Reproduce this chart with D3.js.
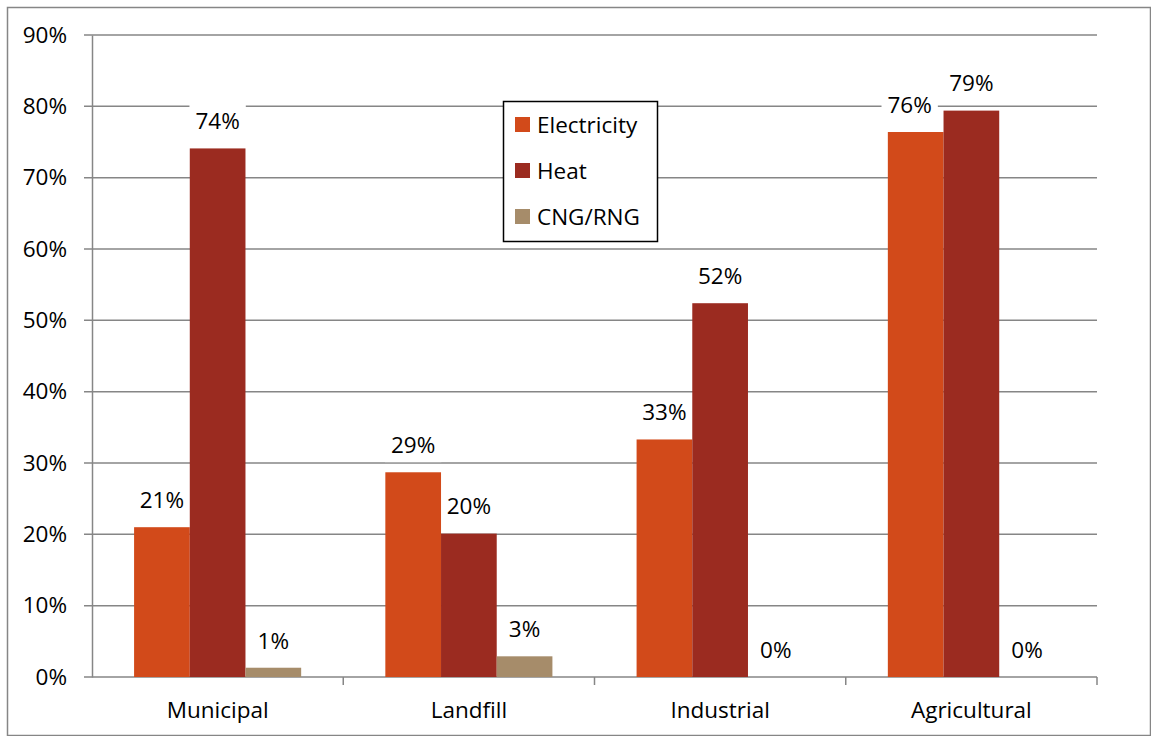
<!DOCTYPE html>
<html>
<head>
<meta charset="utf-8">
<script src="https://cdn.jsdelivr.net/npm/d3@7"></script>
<style>
  body { margin: 0; background: #fff; }
  svg text { font-family: "Open Sans", Lato, sans-serif; fill: #000; }
</style>
</head>
<body>
<div id="chart"></div>
<script>
var categories = ['Municipal', 'Landfill', 'Industrial', 'Agricultural'];
var seriesNames = ['Electricity', 'Heat', 'CNG/RNG'];
var electricity = [0.210, 0.287, 0.333, 0.764];
var heat = [0.741, 0.201, 0.524, 0.794];
var cng = [0.013, 0.029, 0, 0];
var yTicks = [0, 0.1, 0.2, 0.3, 0.4, 0.5, 0.6, 0.7, 0.8, 0.9];
var colors = ['#d24a1a', '#9b2b20', '#a68c6a'];

var W = 1151, H = 736;
var margin = { top: 35, right: 54, bottom: 59, left: 92 },
  width = W - margin.left - margin.right,
  height = H - margin.top - margin.bottom;
var fs = '22.5px';

var svg = d3.select('#chart').append('svg')
  .attr('width', W)
  .attr('height', H);

// outer frame
svg.append('rect')
  .attr('x', 7.5).attr('y', 7.5)
  .attr('width', W - 8).attr('height', H - 8)
  .attr('fill', 'none').attr('stroke', '#868686').attr('stroke-width', 1.5);

var g = svg.append('g')
  .attr('transform', 'translate(' + margin.left + ',' + margin.top + ')');

var x0 = d3.scaleBand().domain(categories).range([0, width]).paddingInner(0).paddingOuter(0);
var x1 = d3.scaleBand().domain(seriesNames).range([0, x0.bandwidth() * 0.665]);
var groupOffset = (x0.bandwidth() - x1.range()[1]) / 2;
var y = d3.scaleLinear().domain([0, 0.9]).range([height, 0]);

// gridlines
g.append('g').selectAll('line')
  .data(yTicks)
  .enter().append('line')
  .attr('x1', -8).attr('x2', width)
  .attr('y1', function (d) { return y(d); })
  .attr('y2', function (d) { return y(d); })
  .attr('stroke', '#868686').attr('stroke-width', 1.5);

// y axis
var yAxis = d3.axisLeft(y).tickValues(yTicks).tickSize(0).tickPadding(25)
  .tickFormat(d3.format('.0%'));
var ya = g.append('g').call(yAxis);
ya.select('.domain').attr('stroke', '#868686').attr('stroke-width', 1.5);
ya.selectAll('text').style('font-size', fs).attr('font-family', null);

// x axis
var xAxis = d3.axisBottom(x0).tickSize(0).tickPadding(25);
var xa = g.append('g').attr('transform', 'translate(0,' + height + ')').call(xAxis);
xa.select('.domain').remove();
xa.selectAll('text').style('font-size', fs).attr('font-family', null);
g.append('g').selectAll('line')
  .data(categories)
  .enter().append('line')
  .attr('x1', function (d) { return x0(d) + x0.bandwidth(); })
  .attr('x2', function (d) { return x0(d) + x0.bandwidth(); })
  .attr('y1', height).attr('y2', height + 8)
  .attr('stroke', '#868686').attr('stroke-width', 1.5);

var rows = categories.map(function (c, i) {
  return { cat: c, vals: [electricity[i], heat[i], cng[i]] };
});
function items(d) {
  return d.vals.map(function (v, k) { return { key: seriesNames[k], value: v, k: k }; });
}

// value labels with white background (under the bars, over the gridlines)
var lblLayer = g.append('g');
var barLayer = g.append('g');

var lgrp = lblLayer.selectAll('.lg')
  .data(rows)
  .enter().append('g')
  .attr('transform', function (d) { return 'translate(' + (x0(d.cat) + groupOffset) + ',0)'; });
var labels = lgrp.selectAll('.lbl')
  .data(items)
  .enter().append('g')
  .attr('transform', function (d) {
    var dx = (d.k === 0 && d.value > 0.7) ? -6 : 0;
    return 'translate(' + (x1(d.key) + x1.bandwidth() / 2 + dx) + ',' + (y(d.value) - 27) + ')';
  });
labels.append('rect').attr('fill', '#fff');
var txt = labels.append('text')
  .attr('text-anchor', 'middle').attr('dy', '0.35em')
  .style('font-size', fs)
  .text(function (d) { return d3.format('.0%')(d.value); });
txt.each(function () {
  var b = this.getBBox();
  d3.select(this.previousSibling)
    .attr('x', b.x - 6).attr('y', b.y - 2)
    .attr('width', b.width + 12).attr('height', b.height + 4);
});

var grp = barLayer.selectAll('.cat')
  .data(rows)
  .enter().append('g')
  .attr('transform', function (d) { return 'translate(' + (x0(d.cat) + groupOffset) + ',0)'; });

grp.selectAll('rect')
  .data(items)
  .enter().append('rect')
  .attr('x', function (d) { return x1(d.key); })
  .attr('width', x1.bandwidth())
  .attr('y', function (d) { return y(d.value); })
  .attr('height', function (d) { return height - y(d.value); })
  .attr('fill', function (d) { return colors[d.k]; });

// legend
var legend = svg.append('g').attr('transform', 'translate(503,101)');
legend.append('rect')
  .attr('x', 0.5).attr('y', 0.5).attr('width', 154).attr('height', 140)
  .attr('fill', '#fff').attr('stroke', '#000').attr('stroke-width', 1.5);
var li = legend.selectAll('.li')
  .data(seriesNames)
  .enter().append('g')
  .attr('transform', function (d, i) { return 'translate(12,' + (24 + i * 46) + ')'; });
li.append('rect')
  .attr('x', 0).attr('y', -8).attr('width', 15).attr('height', 15)
  .attr('fill', function (d, i) { return colors[i]; });
li.append('text')
  .attr('x', 22).attr('dy', '0.35em')
  .style('font-size', fs)
  .text(function (d) { return d; });
</script>
</body>
</html>
